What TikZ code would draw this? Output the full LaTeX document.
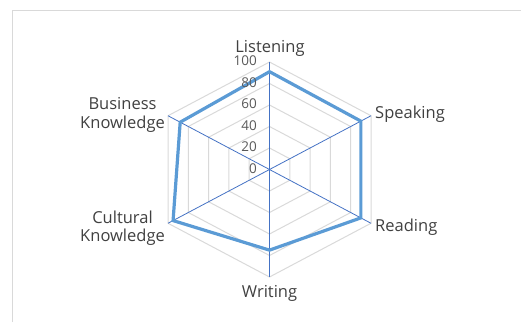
\documentclass[tikz,border=0pt]{standalone}
\usepackage{fontspec}
\setmainfont{Open Sans}
\usetikzlibrary{calc}
\definecolor{gridc}{HTML}{D9D9D9}
\definecolor{framec}{HTML}{D9D9D9}
\definecolor{axisc}{HTML}{4472C4}
\definecolor{datac}{HTML}{5B9BD5}
\definecolor{txtc}{HTML}{404040}
\definecolor{tickc}{HTML}{595959}
\begin{document}
\begin{tikzpicture}[x=1pt,y=-1pt,
  catlab/.style={inner sep=0pt, text=txtc, font=\fontsize{16.5}{18.5}\selectfont, align=center},
  ticklab/.style={inner sep=0pt, text=tickc, font=\fontsize{13.5}{15}\selectfont, anchor=east},
  gridline/.style={draw=gridc, line width=1pt},
  axisline/.style={draw=axisc, line width=0.8pt},
  dataline/.style={draw=datac, line width=3.2pt, line join=miter}]
\useasboundingbox (0,0) rectangle (521,322);
\draw[framec, line width=1pt] (12.5,322) -- (12.5,10) -- (521,10);
\coordinate (C) at (269.5,169.5);
\foreach \i in {0,...,5}
  \coordinate (V\i) at ($(C)+({117.2*sin(60*\i)},{-107.5*cos(60*\i)})$);
\foreach \l in {0.2,0.4,0.6,0.8,1}
  \draw[gridline] ($(C)!\l!(V0)$) -- ($(C)!\l!(V1)$) -- ($(C)!\l!(V2)$) -- ($(C)!\l!(V3)$) -- ($(C)!\l!(V4)$) -- ($(C)!\l!(V5)$) -- cycle;
\foreach \i in {0,...,5}
  \draw[axisline] (C) -- (V\i);
\draw[dataline] ($(C)!0.91!(V0)$) -- ($(C)!0.90!(V1)$) -- ($(C)!0.90!(V2)$) -- ($(C)!0.75!(V3)$) -- ($(C)!0.95!(V4)$) -- ($(C)!0.88!(V5)$) -- cycle;
\node[ticklab] (t100) at (257,61) {100};
\node[ticklab] (t80) at (257,82.5) {80};
\node[ticklab] (t60) at (257,104) {60};
\node[ticklab] (t40) at (257,125.5) {40};
\node[ticklab] (t20) at (257,147) {20};
\node[ticklab] (t0) at (257,168.5) {0};
\node[catlab] (listening) at (270,48.5) {Listening};
\node[catlab, anchor=west] (speaking) at (375,114.5) {Speaking};
\node[catlab, anchor=west] (reading) at (375,227.5) {Reading};
\node[catlab] (writing) at (269.5,293) {Writing};
\node[catlab, anchor=east] (business) at (165,115) {Business\\Knowledge};
\node[catlab, anchor=east] (cultural) at (165,228) {Cultural\\Knowledge};
\end{tikzpicture}
\end{document}
